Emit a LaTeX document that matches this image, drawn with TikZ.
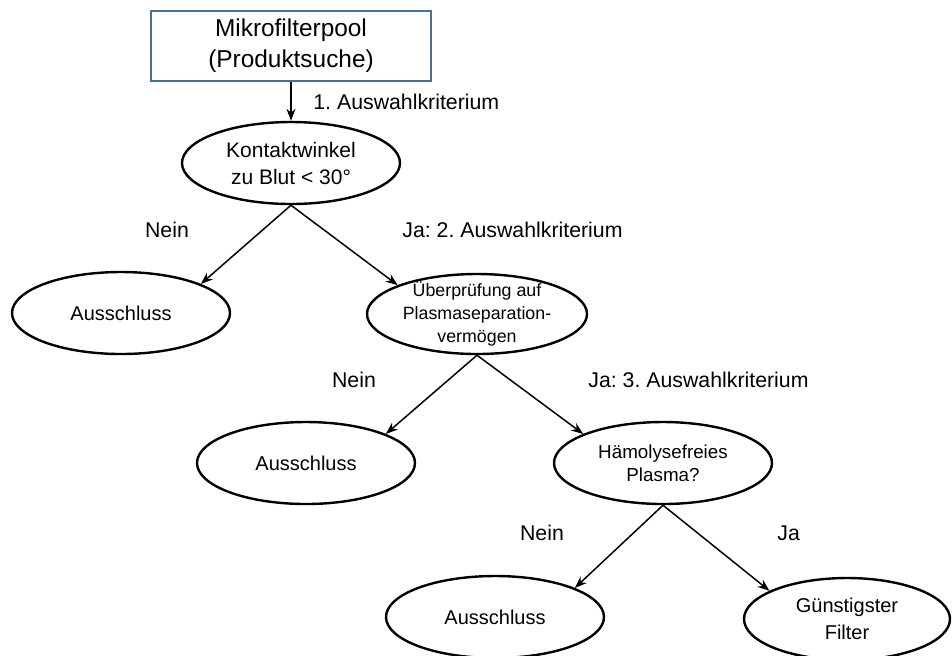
\documentclass[tikz,border=0pt]{standalone}
\usepackage{fontspec}
\setmainfont{Liberation Sans}
\usepackage{xcolor}
\usepackage{tikz}
\usetikzlibrary{shapes.geometric, arrows.meta}
\definecolor{boxblue}{RGB}{65,113,156}
\frenchspacing

\begin{document}
\begin{tikzpicture}[x=0.5pt, y=-0.5pt,
    ell/.style={ellipse, draw, line width=1.2pt, minimum width=109pt, minimum height=41pt, inner sep=1pt, align=center},
    lbl/.style={font=\fontsize{10.65}{13}\selectfont, inner sep=0pt},
    arr/.style={-{Stealth[length=6pt, width=4.5pt]}, line width=0.75pt}]
        \useasboundingbox (0, 0) rectangle (952, 655);
        \node (pool) at (291, 46) [rectangle, draw = boxblue, line width = 1pt, minimum width = 140pt, minimum height = 35pt, align = center, font = \fontsize{12.2}{15.5}\selectfont] {Mikrofilterpool\\(Produktsuche)};
        \node (winkel) at (291, 163) [ell, font = \fontsize{10.5}{13.5}\selectfont] {Kontaktwinkel\\zu Blut < 30°};
        \node (aus1) at (121, 313) [ell, font = \fontsize{10}{12.7}\selectfont] {Ausschluss};
        \node (plasma) at (477, 314) [ell, minimum width = 110pt, minimum height = 40pt, inner ysep = -2.5pt, font = \fontsize{8.9}{11.5}\selectfont] {Überprüfung auf\\Plasmaseparation-\\vermögen};
        \node (aus2) at (306, 463) [ell, font = \fontsize{10}{12.7}\selectfont] {Ausschluss};
        \node (haemo) at (663, 463) [ell, font = \fontsize{9.4}{11.5}\selectfont] {Hämolysefreies\\Plasma?};
        \node (aus3) at (495, 617) [ell, font = \fontsize{10}{12.7}\selectfont] {Ausschluss};
        \node (filter) at (847, 619) [ell, minimum width = 103pt, font = \fontsize{10}{13.2}\selectfont] {Günstigster\\Filter};
        \node (krit1) at (313, 102) [lbl, anchor = west] {1. Auswahlkriterium};
        \node (nein1) at (167, 230) [lbl] {Nein};
        \node (krit2) at (402, 230) [lbl, anchor = west] {Ja: 2. Auswahlkriterium};
        \node (nein2) at (354, 380) [lbl] {Nein};
        \node (krit3) at (588, 380) [lbl, anchor = west] {Ja: 3. Auswahlkriterium};
        \node (nein3) at (542, 533) [lbl] {Nein};
        \node (ja3) at (777, 533) [lbl, anchor = west] {Ja};
        \draw [arr] (pool.south) -- (winkel.north);
        \draw [arr] (winkel.south) -- (aus1.20);
        \draw [arr] (winkel.south) -- (plasma.160);
        \draw [arr] (plasma.south) -- (aus2.20);
        \draw [arr] (plasma.south) -- (haemo.160);
        \draw [arr] (haemo.south) -- (aus3.20);
        \draw [arr] (haemo.south) -- (filter.160);
    \end{tikzpicture}
\end{document}
